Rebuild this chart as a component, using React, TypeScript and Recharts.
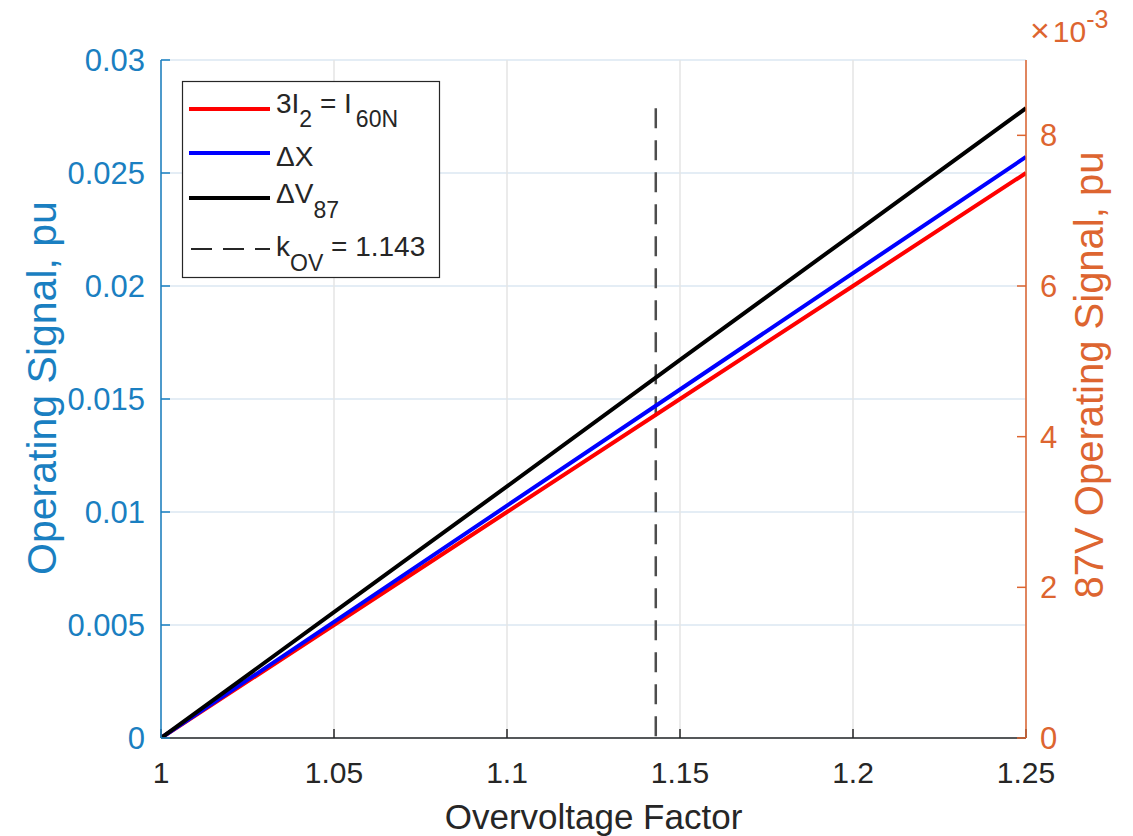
import React from 'react';
import {
  LineChart,
  Line,
  XAxis,
  YAxis,
  CartesianGrid,
  ReferenceLine,
  Customized,
  Label
} from 'recharts';

// Valores
const overvoltage = [1, 1.05, 1.1, 1.15, 1.2, 1.25];
const negSeqCurrent = [0, 0.005, 0.01, 0.015, 0.02, 0.025];
const deltaX = [0, 0.00514, 0.01028, 0.01542, 0.02057, 0.02571];
const deltaV87 = [0, 0.00167, 0.00334, 0.00502, 0.00669, 0.00836];

const xTicks = [1, 1.05, 1.1, 1.15, 1.2, 1.25];
const leftTicks = [0, 0.005, 0.01, 0.015, 0.02, 0.025, 0.03];
const rightTicks = [0, 0.002, 0.004, 0.006, 0.008];
const kOV = 1.143;

const FONT = '"Liberation Sans", Arial, Helvetica, sans-serif';
const BLUE = '#1a7fc1';
const ORANGE = '#dd6530';
const DARK = '#262626';

const data = overvoltage.map((k, i) => ({
  k,
  neg: negSeqCurrent[i],
  dx: deltaX[i],
  dv: deltaV87[i],
}));

// Legenda desenhada em SVG (com subscritos)
const LegendBox = () => {
  const lx1 = 189;
  const lx2 = 270;
  const tx = 276;
  const fs = 28;
  const sub = 23;
  return (
    <g fontFamily={FONT} fill={DARK} style={{ whiteSpace: 'pre' }}>
      <rect x={182.5} y={81.5} width={257} height={196} fill="#ffffff" stroke={DARK} strokeWidth={1.2} />
      <line x1={lx1} x2={lx2} y1={109} y2={109} stroke="#ff0000" strokeWidth={4} />
      <text x={tx} y={113} fontSize={fs}>
        3I<tspan dy={14} fontSize={sub}>2</tspan>
        <tspan dy={-14} fontSize={fs}> = I</tspan>
        <tspan dy={14} dx={4} fontSize={sub}>60N</tspan>
      </text>
      <line x1={lx1} x2={lx2} y1={153} y2={153} stroke="#0000ff" strokeWidth={4} />
      <text x={tx} y={166} fontSize={fs}>ΔX</text>
      <line x1={lx1} x2={lx2} y1={198} y2={198} stroke="#000000" strokeWidth={4} />
      <text x={tx} y={203} fontSize={fs}>
        ΔV<tspan dy={15} fontSize={sub}>87</tspan>
      </text>
      <line x1={191} x2={270} y1={249} y2={249} stroke={DARK} strokeWidth={2} strokeDasharray="21 11" />
      <text x={tx} y={256} fontSize={fs}>
        k<tspan dy={15} fontSize={sub}>OV</tspan>
        <tspan dy={-15} fontSize={fs}> = 1.143</tspan>
      </text>
    </g>
  );
};

// Multiplicador do eixo direito
const Multiplier = () => (
  <text x={1030} y={42} fontFamily={FONT} fontSize={30} fill={ORANGE} style={{ whiteSpace: 'pre' }}>
    <tspan fontSize={34} fontWeight={300}>×</tspan>
    <tspan dx={3}>10</tspan>
    <tspan dy={-14} fontSize={25}>-3</tspan>
  </text>
);

export default function App() {
  return (
    <div style={{ position: 'absolute', left: 0, top: 0, background: '#fff' }}>
      <LineChart
        width={1133}
        height={836}
        data={data}
        margin={{ top: 60, right: 7, bottom: 38, left: 61 }}
      >
        <CartesianGrid yAxisId="left" horizontal vertical={false} stroke="#dbe7f2" strokeWidth={1.5} />
        <CartesianGrid yAxisId="left" horizontal={false} vertical stroke="#e4e4e4" strokeWidth={1.5} />
        <XAxis
          dataKey="k"
          type="number"
          domain={[1, 1.25]}
          ticks={xTicks}
          allowDataOverflow
          height={60}
          tickSize={-9}
          tickMargin={33}
          tickFormatter={(v: number) => String(v)}
          tick={{ fill: DARK, fontSize: 30, fontFamily: FONT }}
          axisLine={{ stroke: DARK, strokeWidth: 1.5 }}
          tickLine={{ stroke: DARK, strokeWidth: 1.5 }}
        >
          <Label
            value="Overvoltage Factor"
            position="center"
            dy={49}
            style={{ fill: DARK, fontSize: 35, fontFamily: FONT }}
          />
        </XAxis>
        <YAxis
          yAxisId="left"
          domain={[0, 0.03]}
          ticks={leftTicks}
          allowDataOverflow
          width={100}
          tickSize={-9}
          tickMargin={25}
          tickFormatter={(v: number) => String(v)}
          tick={{ fill: BLUE, fontSize: 31, fontFamily: FONT }}
          axisLine={{ stroke: BLUE, strokeWidth: 1.5 }}
          tickLine={{ stroke: BLUE, strokeWidth: 1.5 }}
        >
          <Label
            value="Operating Signal, pu"
            angle={-90}
            position="center"
            dx={-70}
            dy={-11}
            style={{ fill: BLUE, fontSize: 41, fontFamily: FONT, textAnchor: 'middle' }}
          />
        </YAxis>
        <YAxis
          yAxisId="right"
          orientation="right"
          domain={[0, 0.009]}
          ticks={rightTicks}
          allowDataOverflow
          width={100}
          tickSize={-9}
          tickMargin={23}
          tickFormatter={(v: number) => String(Math.round(v * 1000))}
          tick={{ fill: ORANGE, fontSize: 31, fontFamily: FONT }}
          axisLine={{ stroke: ORANGE, strokeWidth: 1.5 }}
          tickLine={{ stroke: ORANGE, strokeWidth: 1.5 }}
        >
          <Label
            value="87V Operating Signal, pu"
            angle={-90}
            position="center"
            dx={13}
            dy={-24}
            style={{ fill: ORANGE, fontSize: 40, fontFamily: FONT, textAnchor: 'middle' }}
          />
        </YAxis>
        <ReferenceLine
          yAxisId="right"
          segment={[
            { x: kOV, y: deltaV87[deltaV87.length - 1] },
            { x: kOV, y: 0 },
          ]}
          stroke="#4d4d4d"
          strokeWidth={2.5}
          strokeDasharray="20 12"
        />
        <Line
          yAxisId="left"
          dataKey="neg"
          stroke="#ff0000"
          strokeWidth={4}
          dot={false}
          isAnimationActive={false}
        />
        <Line
          yAxisId="left"
          dataKey="dx"
          stroke="#0000ff"
          strokeWidth={4}
          dot={false}
          isAnimationActive={false}
        />
        <Line
          yAxisId="right"
          dataKey="dv"
          stroke="#000000"
          strokeWidth={4}
          dot={false}
          isAnimationActive={false}
        />
        <Customized component={LegendBox} />
        <Customized component={Multiplier} />
      </LineChart>
    </div>
  );
}
